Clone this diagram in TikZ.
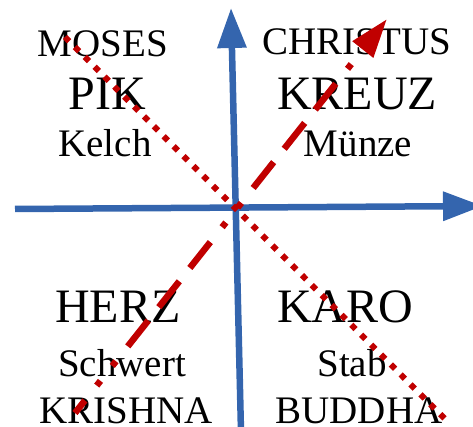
\documentclass[tikz,border=0pt]{standalone}
\usepackage{fontspec}
\setmainfont{Liberation Serif}
\usetikzlibrary{arrows.meta}
\definecolor{axisblue}{RGB}{52,101,174}
\definecolor{crossred}{RGB}{192,0,0}

\begin{document}
\begin{tikzpicture}[x=1pt, y=-1pt,
  axis/.style={axisblue, line width=6.5pt, -{Triangle[length=40pt, width=28pt]}},
  word/.style={anchor=base, inner sep=0pt, font=\fontsize{39}{39}\selectfont},
  bigword/.style={anchor=base, inner sep=0pt, font=\fontsize{48}{48}\selectfont}]
\useasboundingbox (0,0) rectangle (473,427);
\node[word] (moses) at (103,57) {MOSES};
\node[bigword] (pik) at (107,110) {PIK};
\node[word] (kelch) at (105,157) {Kelch};
\node[word] (christus) at (357,55) {CHRISTUS};
\node[bigword] (kreuz) at (357,110) {KREUZ};
\node[word] (muenze) at (358,157) {Münze};
\node[bigword] (herz) at (118,322) {HERZ};
\node[word] (schwert) at (122,376) {Schwert};
\node[word] (krishna) at (126,423) {KRISHNA};
\node[bigword] (karo) at (345,322) {KARO};
\node[word] (stab) at (352,376) {Stab};
\node[word] (buddha) at (359,423) {BUDDHA};
\coordinate (west) at (15,209);
\coordinate (east) at (483,206);
\coordinate (south) at (241,432);
\coordinate (north) at (231,8);
\draw[axis] (west) -- (east);
\draw[axis] (south) -- (north);
\coordinate (dotstart) at (65,37);
\coordinate (dotend) at (448,422);
\draw[crossred, line width=6pt, dash pattern=on 6pt off 8pt] (dotstart) -- (dotend);
\coordinate (dashstart) at (75,413);
\coordinate (dashend) at (387,19);
\draw[crossred, line width=6.5pt, -{Triangle[length=39pt, width=25pt]},
  dash pattern=on 33pt off 17pt on 33pt off 17pt on 33pt off 19pt on 6pt off 19pt on 6pt off 19pt,
  dash phase=117pt] (dashstart) -- (dashend);
\end{tikzpicture}
\end{document}
